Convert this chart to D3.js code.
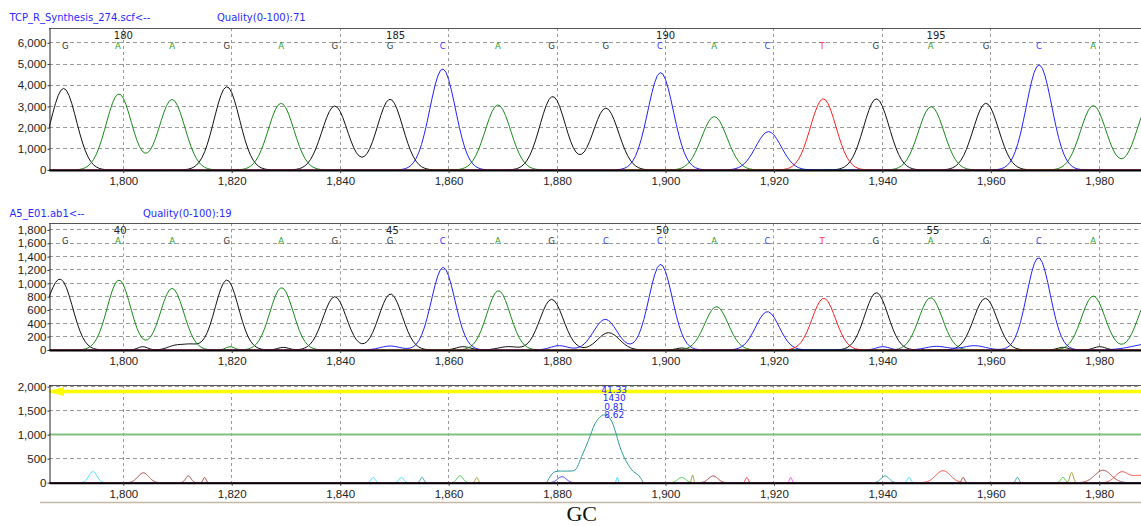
<!DOCTYPE html>
<html>
<head>
    <meta charset="utf-8">
    <title>Trace comparison</title>
</head>
<body style="margin:0; background:#fff;">
<style type="text/css">
    #renderer { display: block; background: #fff; }
</style>
<script type="text/javascript" src="https://cdnjs.cloudflare.com/ajax/libs/d3/7.8.5/d3.min.js"></script>
<svg id="renderer" width="1141" height="526"></svg>

<script type="text/javascript">
    // ---- data ----
    // x axis = scan number
    var scanTicks = [1800, 1820, 1840, 1860, 1880, 1900, 1920, 1940, 1960, 1980];

    // base calls (same scan positions in both traces)
    var callScan = [1789.3, 1799, 1809, 1819.1, 1829.1, 1839, 1849.2, 1858.9, 1869.1, 1879,
                    1889, 1899, 1909, 1918.8, 1928.9, 1938.8, 1948.9, 1959.1, 1968.9, 1978.9];
    var refCalls  = ['G','A','A','G','A','G','G','C','A','G','G','C','A','C','T','G','A','G','C','A'];
    var testCalls = ['G','A','A','G','A','G','G','C','A','G','C','C','A','C','T','G','A','G','C','A'];
    var numberAt = [1, 6, 11, 16];
    var refNumbers = [180, 185, 190, 195];
    var testNumbers = [40, 45, 50, 55];

    // reference trace
    var refTitle = 'TCP_R_Synthesis_274.scf<--';
    var refQuality = 'Quality(0-100):71';
    var refTicks = [0, 1000, 2000, 3000, 4000, 5000, 6000];
    var refPeakScan = [1789, 1799.2, 1809, 1819.1, 1829.1, 1839, 1849.2, 1858.9, 1869.1, 1879.2, 1889,
                       1899.1, 1909, 1919, 1929.1, 1938.9, 1949, 1959.1, 1968.9, 1978.9, 1989.3];
    var refPeakBase = ['G','A','A','G','A','G','G','C','A','G','G','C','A','C','T','G','A','G','C','A','A'];
    var refPeakHeight = [3850, 3590, 3330, 3930, 3150, 3020, 3340, 4770, 3070, 3470, 2920,
                         4600, 2520, 1810, 3360, 3360, 2990, 3150, 4960, 3040, 3100];
    var refSigma = 2.35;

    // test trace
    var testTitle = 'A5_E01.ab1<--';
    var testQuality = 'Quality(0-100):19';
    var testTicks = [0, 200, 400, 600, 800, 1000, 1200, 1400, 1600, 1800];
    var testPeakScan = [1788.6, 1799.2, 1809, 1819.1, 1829.2, 1839, 1849.3, 1859, 1869.2, 1879, 1888.9,
                        1899.1, 1909.4, 1918.8, 1929.2, 1938.9, 1948.9, 1959, 1968.8, 1978.9, 1989.3];
    var testPeakBase = ['G','A','A','G','A','G','G','C','A','G','C','C','A','C','T','G','A','G','C','A','A'];
    var testPeakHeight = [1000, 1050, 925, 1050, 935, 800, 840, 1240, 890, 760, 460,
                          1285, 650, 575, 775, 860, 785, 775, 1385, 810, 790];
    var testSigma = 2.15;
    // small secondary signals in the test trace
    var testMinorScan   = [1785.5, 1803.6, 1809.6, 1812.4, 1819.7, 1829.5, 1849.2, 1862.7, 1871, 1880.4, 1889.5, 1903, 1940.1, 1950, 1957, 1973.3, 1980.1, 1990];
    var testMinorBase   = ['G','G','G','G','A','G','C','G','G','C','G','G','C','C','C','G','G','C'];
    var testMinorHeight = [250, 50, 65, 75, 50, 40, 60, 50, 50, 65, 260, 30, 50, 55, 65, 40, 50, 100];
    var testMinorWidth  = [1.8, 0.9, 1.4, 1.4, 0.8, 1.0, 1.8, 1.3, 1.8, 1.6, 2.0, 1.0, 1.2, 2.0, 2.0, 1.0, 1.1, 3.5];

    // difference trace
    var diffTicks = [0, 500, 1000, 1500, 2000];
    var diffMarker = 1900;
    var diffThreshold = 1000;
    var diffScan    = [1794.4, 1803.7, 1812, 1815, 1846.1, 1851.3, 1855.1, 1862.1, 1865.2, 1880.9, 1891.1, 1903, 1905,
                       1908.8, 1915, 1923.1, 1940.5, 1944.9, 1951.2, 1954.9, 1964.9, 1973.3, 1974.9, 1980.7, 1984.1, 1987.6];
    var diffChannel = [0, 1, 1, 1, 0, 0, 5, 2, 3, 4, 0, 2, 3,
                       1, 6, 7, 5, 0, 6, 1, 5, 2, 3, 1, 6, 6];
    var diffHeight  = [230, 205, 140, 110, 110, 110, 110, 145, 110, 125, 110, 110, 160,
                       140, 110, 110, 140, 110, 250, 110, 110, 110, 215, 260, 215, 150];
    var diffWidth   = [0.75, 1.0, 0.5, 0.27, 0.37, 0.43, 0.31, 0.55, 0.25, 0.8, 0.16, 0.74, 0.18,
                       0.86, 0.25, 0.22, 0.74, 0.31, 1.35, 0.27, 0.28, 0.39, 0.32, 1.5, 1.2, 1.6];
    // the big difference peak, read point by point
    var mainDiffScan  = [1878.1, 1878.7, 1879.6, 1881.8, 1883.3, 1884.5, 1885.8, 1887, 1887.9, 1888.7,
                         1889.8, 1890.7, 1891.6, 1892.8, 1894.1, 1895, 1895.9];
    var mainDiffValue = [0, 124, 228, 242, 263, 538, 883, 1228, 1365, 1415,
                         1332, 1090, 745, 434, 228, 159, 0];
    var mainDiffLabels = ['41.33', '1430', '0.81', '8.62'];
    var footer = 'GC';

    // ---- drawing ----
    var root = d3.select('#renderer');
    var plotLeft = 49, plotRight = 1141;
    var x = d3.scaleLinear().domain([1786.3, 1987.7]).range([plotLeft, plotRight]);

    var traceColor = d3.scaleOrdinal().domain(['G','A','C','T']).range(['#111111', '#178c17', '#2222ff', '#ff2020']);
    var callColor = d3.scaleOrdinal().domain(['G','A','C','T']).range(['#333333', '#2e9e2e', '#3a3aff', '#ff3a3a']);
    var diffColor = d3.scaleOrdinal().domain(d3.range(8))
        .range(['#33ddff', '#a33a3a', '#33cc33', '#a0a030', '#3333ff', '#2f9c9c', '#ff3a3a', '#ff40ff']);

    function crisp(v) { return Math.round(v - 0.5) + 0.5; }

    function bell(s, p, h, w) { return h * Math.exp(-(s - p) * (s - p) / (2 * w * w)); }

    // sum of peaks of one channel, sampled along the scan axis
    function sampled(scans, keys, heights, widths, key, step) {
        var pts = [];
        for (var s = 1784; s <= 1992; s += step) {
            var v = 0;
            for (var i = 0; i < scans.length; i++) {
                if (keys[i] === key) v += bell(s, scans[i], heights[i], widths[i]);
            }
            pts.push([s, v]);
        }
        return pts;
    }

    function frame(y0, y1, yMax, ticks) {
        var y = d3.scaleLinear().domain([0, yMax]).range([y1, y0]);
        var g = root.append('g');
        g.selectAll(null).data(ticks.slice(1)).enter().append('line')
            .attr('x1', plotLeft).attr('x2', plotRight)
            .attr('y1', function (d) { return crisp(y(d)); })
            .attr('y2', function (d) { return crisp(y(d)); })
            .attr('stroke', '#9a9a9a').attr('stroke-dasharray', '4,3');
        g.selectAll(null).data(scanTicks).enter().append('line')
            .attr('x1', function (d) { return crisp(x(d)); })
            .attr('x2', function (d) { return crisp(x(d)); })
            .attr('y1', y0).attr('y2', y1)
            .attr('stroke', '#9a9a9a').attr('stroke-dasharray', '3,3');
        g.append('line')
            .attr('x1', plotLeft).attr('x2', plotRight)
            .attr('y1', crisp(y0)).attr('y2', crisp(y0))
            .attr('stroke', '#555');

        var clipId = 'clip' + Math.round(y0);
        root.append('clipPath').attr('id', clipId).append('rect')
            .attr('x', plotLeft).attr('y', y0)
            .attr('width', plotRight - plotLeft).attr('height', y1 - y0);
        var traces = root.append('g').attr('clip-path', 'url(#' + clipId + ')');
        return { y: y, y0: y0, y1: y1, ticks: ticks, traces: traces };
    }

    function axes(p) {
        var ya = root.append('g').attr('transform', 'translate(' + crisp(plotLeft) + ',0)')
            .call(d3.axisLeft(p.y).tickValues(p.ticks).tickFormat(d3.format(','))
                .tickSize(2).tickSizeOuter(0).tickPadding(1));
        var xa = root.append('g').attr('transform', 'translate(0,' + p.y1 + ')')
            .call(d3.axisBottom(x).tickValues(scanTicks).tickFormat(d3.format(','))
                .tickSize(3).tickSizeOuter(0).tickPadding(4));
        [ya, xa].forEach(function (a) {
            a.attr('font-family', '"Liberation Sans", Arial, sans-serif').attr('font-size', 11.5);
            a.selectAll('text').attr('fill', '#222');
            a.selectAll('line').attr('stroke', '#333');
        });
        ya.select('.domain').attr('stroke', '#222');
        xa.select('.domain').attr('stroke', '#000').attr('stroke-width', 2);
    }

    function header(yb, title, quality, qx) {
        root.append('text').attr('x', 9.5).attr('y', yb).text(title)
            .attr('font-family', '"DejaVu Sans", sans-serif').attr('font-size', 10).attr('fill', '#2a2aff');
        root.append('text').attr('x', qx).attr('y', yb).text(quality)
            .attr('font-family', '"DejaVu Sans", sans-serif').attr('font-size', 10).attr('fill', '#2a2aff');
    }

    function calls(p, letters, numbers) {
        root.append('g').selectAll('text').data(letters).enter().append('text')
            .attr('x', function (d, i) { return x(callScan[i]); })
            .attr('y', p.y0 + 21)
            .attr('text-anchor', 'middle')
            .attr('font-family', '"DejaVu Sans", sans-serif').attr('font-size', 8.5)
            .attr('fill', function (d) { return callColor(d); })
            .text(function (d) { return d; });
        root.append('g').selectAll('text').data(numbers).enter().append('text')
            .attr('x', function (d, i) { return x(callScan[numberAt[i]]) - 4; })
            .attr('y', p.y0 + 10.5)
            .attr('font-family', '"DejaVu Sans", sans-serif').attr('font-size', 10)
            .attr('fill', '#222')
            .text(function (d) { return d; });
    }

    function traceSet(p, scans, keys, heights, widths) {
        var line = d3.line().x(function (d) { return x(d[0]); }).y(function (d) { return p.y(d[1]); });
        ['G', 'A', 'C', 'T'].forEach(function (b) {
            p.traces.append('path')
                .attr('d', line(sampled(scans, keys, heights, widths, b, 0.5)))
                .attr('fill', 'none').attr('stroke', traceColor(b)).attr('stroke-width', 1);
        });
    }

    // top: reference
    header(21, refTitle, refQuality, 217);
    var refPanel = frame(28, 170, 6700, refTicks);
    traceSet(refPanel, refPeakScan, refPeakBase, refPeakHeight, refPeakScan.map(function () { return refSigma; }));
    axes(refPanel);
    calls(refPanel, refCalls, refNumbers);

    // middle: test
    header(217, testTitle, testQuality, 143);
    var testPanel = frame(223.3, 350, 1900, testTicks);
    traceSet(testPanel,
        testPeakScan.concat(testMinorScan),
        testPeakBase.concat(testMinorBase),
        testPeakHeight.concat(testMinorHeight),
        testPeakScan.map(function () { return testSigma; }).concat(testMinorWidth));
    axes(testPanel);
    calls(testPanel, testCalls, testNumbers);

    // bottom: difference
    var diffPanel = frame(385, 482.7, 2035, diffTicks);
    var ym = crisp(diffPanel.y(diffThreshold));
    diffPanel.traces.append('line').attr('x1', plotLeft).attr('x2', plotRight).attr('y1', ym).attr('y2', ym)
        .attr('stroke', '#80c080').attr('stroke-width', 2);

    var diffLine = d3.line().x(function (d) { return x(d[0]); }).y(function (d) { return diffPanel.y(d[1]); });
    d3.range(8).forEach(function (c) {
        diffPanel.traces.append('path')
            .attr('d', diffLine(sampled(diffScan, diffChannel, diffHeight, diffWidth, c, 0.05)))
            .attr('fill', 'none').attr('stroke', diffColor(c)).attr('stroke-width', 1);
    });
    var mainPts = mainDiffScan.map(function (s, i) { return [s, mainDiffValue[i]]; });
    diffPanel.traces.append('path')
        .attr('d', diffLine.curve(d3.curveCatmullRom)(mainPts))
        .attr('fill', 'none').attr('stroke', diffColor(5)).attr('stroke-width', 1);

    var yy = diffPanel.y(diffMarker);
    root.append('line').attr('x1', plotLeft).attr('x2', plotRight).attr('y1', yy).attr('y2', yy)
        .attr('stroke', '#ffff00').attr('stroke-width', 3.5);
    root.append('polygon')
        .attr('points', [[48, yy], [64, yy - 4.5], [64, yy + 4.5]].map(function (p) { return p.join(','); }).join(' '))
        .attr('fill', '#ffff00');

    axes(diffPanel);

    var apex = d3.maxIndex(mainDiffValue);
    root.append('g').selectAll('text').data(mainDiffLabels).enter().append('text')
        .attr('x', x(mainDiffScan[apex]) + 10)
        .attr('y', function (d, i) { return 393 + i * 8.3; })
        .attr('text-anchor', 'middle')
        .attr('font-family', '"DejaVu Sans", sans-serif').attr('font-size', 9)
        .attr('fill', '#2a2aff')
        .text(function (d) { return d; });

    root.append('line').attr('x1', 40).attr('x2', plotRight).attr('y1', 502.5).attr('y2', 502.5)
        .attr('stroke', '#c2b9a6').attr('stroke-width', 1.5);

    root.append('text').attr('x', 581.7).attr('y', 520.5).attr('text-anchor', 'middle')
        .attr('font-family', '"Liberation Serif", "Times New Roman", serif').attr('font-size', 22)
        .attr('fill', '#111').text(footer);
</script>
</body>
</html>
